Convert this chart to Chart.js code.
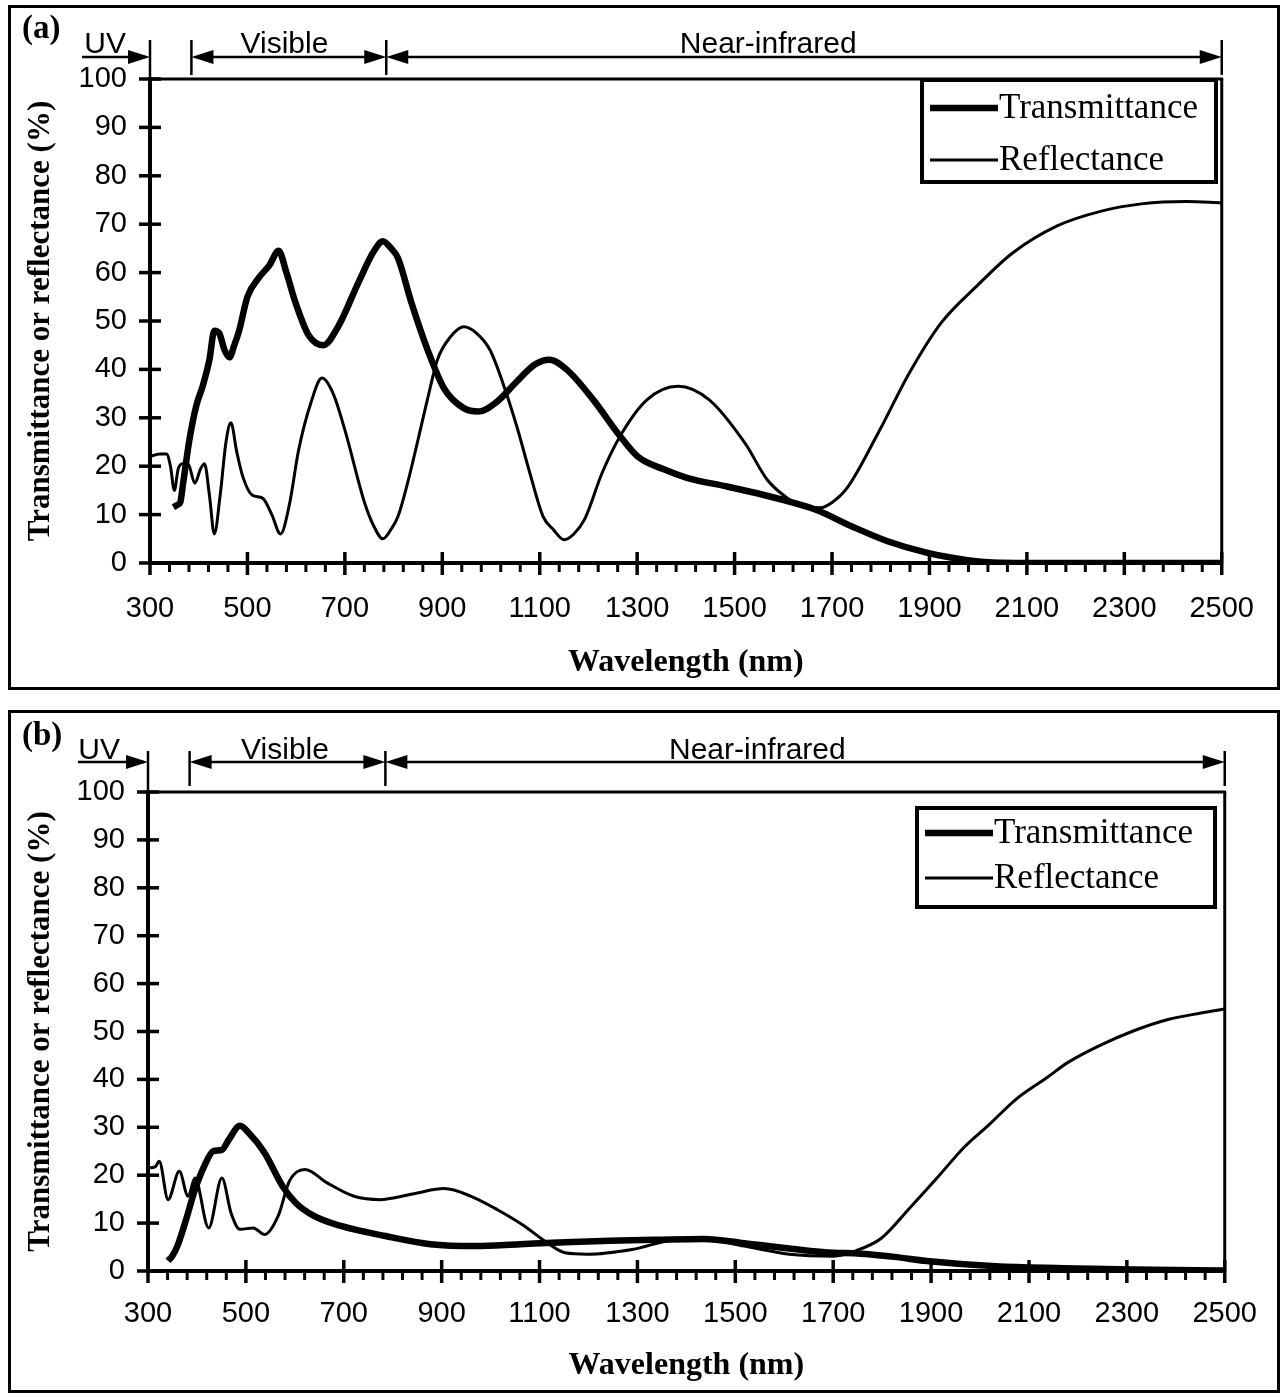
<!DOCTYPE html>
<html>
<head>
<meta charset="utf-8">
<title>Transmittance and reflectance spectra</title>
<script src="https://cdn.jsdelivr.net/npm/chart.js@4.4.1/dist/chart.umd.min.js"></script>
<style>
  body { margin: 0; background: #fff; }
  #page { position: relative; width: 1283px; height: 1397px; overflow: hidden; }
  .frame { position: absolute; left: 8px; width: 1272px; border: 3px solid #000; box-sizing: border-box; }
  canvas { position: absolute; left: 0; }
</style>
</head>
<body>
<div id="page">
  <div class="frame" style="top:5px;height:685px"></div>
  <div class="frame" style="top:710px;height:683px"></div>
  <canvas id="chartA" width="1283" height="700" style="top:0"></canvas>
  <canvas id="chartB" width="1283" height="697" style="top:700px"></canvas>
</div>
<script>
var xTicks = [300, 500, 700, 900, 1100, 1300, 1500, 1700, 1900, 2100, 2300, 2500];
var yTicks = [0, 10, 20, 30, 40, 50, 60, 70, 80, 90, 100];
var seriesNames = ["Transmittance", "Reflectance"];
var regionNames = ["UV", "Visible", "Near-infrared"];
var regionEdges = [300, 385, 785, 2500];

// (a)
var wlTransA = [348, 356, 362, 368, 381, 395, 408, 422, 432, 442, 453, 463, 473, 483, 500, 524, 545, 564, 580, 598,
  626, 656, 687, 728, 760, 778, 795, 809, 836, 870, 904, 944, 975, 1012, 1053, 1090, 1120, 1155, 1210, 1265,
  1301, 1356, 1402, 1484, 1558, 1612, 1667, 1740, 1814, 1896, 1978, 2030, 2100, 2200, 2300, 2400, 2500];
var transA = [11.5, 12, 12.5, 16.5, 25.5, 32.5, 36.5, 42, 48, 47.5, 44, 42.5, 45, 48, 55, 59, 61.5, 64.5, 60, 54,
  47, 45, 49, 58, 64.5, 66.5, 65, 63, 54, 44, 36, 32, 31.3, 33.3, 37.5, 41, 42, 40, 33.7, 26.2,
  22, 19.3, 17.6, 15.8, 14.1, 12.7, 11, 7.6, 4.5, 2.1, 0.6, 0.1, 0, 0, 0, 0, 0];
var wlReflA = [300, 320, 334, 342, 350, 358, 368, 378, 392, 404, 412, 422, 432, 444, 456, 466, 478, 490, 510, 531,
  550, 568, 586, 605, 630, 653, 676, 700, 741, 760, 778, 795, 809, 830, 850, 870, 890, 915, 944, 970,
  998, 1025, 1053, 1080, 1107, 1127, 1150, 1170, 1192, 1228, 1265, 1320, 1384, 1448, 1521, 1567, 1603, 1631, 1676, 1700,
  1731, 1795, 1859, 1924, 1997, 2070, 2161, 2253, 2335, 2427, 2500];
var reflA = [22, 22.5, 22.5, 20, 15, 19.5, 20.5, 20.5, 16.5, 19.5, 20.5, 14, 6, 14, 25, 29, 23, 18, 14, 13.4,
  10, 6, 12, 23.3, 33, 38.2, 35, 27.5, 12.3, 7.5, 5, 7, 9.6, 17, 25.4, 34, 42, 46.5, 48.8, 47.5,
  44, 37, 28.2, 18.5, 9.6, 7, 4.8, 6, 9, 18.6, 26.2, 33.7, 36.5, 33.7, 24.8, 17.2, 13.8, 12.1, 11.4, 12.5,
  15.5, 26.9, 39.3, 49.6, 57.2, 64, 69.6, 72.7, 74.2, 74.7, 74.4];

// (b)
var wlTransB = [341, 350, 360, 378, 396, 415, 433, 451, 465, 488, 506, 538, 575, 602, 639, 694, 785, 877, 969, 1060,
  1152, 1243, 1335, 1436, 1518, 1610, 1701, 1743, 1820, 1891, 2032, 2172, 2313, 2500];
var transB = [2.1, 3.2, 5.2, 10.8, 17, 21.9, 25, 25.3, 27.4, 30.3, 28.8, 24.7, 17.7, 14.2, 11.5, 9.4, 7.3, 5.6, 5.2, 5.6,
  6, 6.3, 6.5, 6.7, 5.8, 4.7, 3.8, 3.7, 3, 2.1, 1, 0.6, 0.3, 0.1];
var wlReflB = [300, 315, 323, 341, 364, 382, 396, 424, 451, 470, 488, 515, 538, 566, 589, 621, 666, 721, 776, 804,
  850, 905, 960, 1014, 1069, 1106, 1152, 1198, 1289, 1381, 1436, 1518, 1610, 1701, 1743, 1799, 1856, 1912, 1968, 2017,
  2074, 2137, 2179, 2243, 2313, 2384, 2454, 2500];
var reflB = [21.5, 21.8, 22.9, 14.9, 20.8, 15.6, 19.4, 9, 19.4, 12, 8.7, 9, 7.6, 11.5, 18.8, 21.2, 18.4, 15.6, 14.9, 15.3,
  16.3, 17.2, 15.6, 12.8, 9.4, 6.6, 3.8, 3.5, 4.5, 6.6, 6.7, 5.2, 3.5, 3.1, 4.1, 6.9, 13.1, 19.4, 25.9, 30.4,
  35.9, 40.4, 43.5, 47, 50.1, 52.5, 53.9, 54.7];

var SANS = "'Liberation Sans', Arial, sans-serif";
var SERIF = "'Liberation Serif', 'Times New Roman', serif";

function pairs(xs, ys) {
  return xs.map(function(x, i) { return {x: x, y: ys[i]}; });
}

function seg(ctx, x1, y1, x2, y2) {
  ctx.beginPath();
  ctx.moveTo(x1, y1);
  ctx.lineTo(x2, y2);
  ctx.stroke();
}

function head(ctx, tip, y, dir) {
  ctx.beginPath();
  ctx.moveTo(tip, y);
  ctx.lineTo(tip - dir * 22, y - 7);
  ctx.lineTo(tip - dir * 22, y + 7);
  ctx.closePath();
  ctx.fill();
}

// ticks, plot frame, UV/visible/NIR markers, legend box and panel tag
var decor = {
  id: 'decor',
  afterDraw: function(chart, args, o) {
    var ctx = chart.ctx, a = chart.chartArea;
    var xs = chart.scales.x, ys = chart.scales.y;
    ctx.save();
    ctx.strokeStyle = '#000';
    ctx.fillStyle = '#000';
    ctx.lineCap = 'butt';

    ctx.lineWidth = 3;
    seg(ctx, a.left, a.top, a.right + 1.5, a.top);
    seg(ctx, a.right, a.top, a.right, a.bottom);

    ctx.lineWidth = 3.5;
    yTicks.forEach(function(v) {
      var y = ys.getPixelForValue(v);
      seg(ctx, a.left - 11, y, a.left + 11, y);
    });
    xTicks.forEach(function(v) {
      var x = xs.getPixelForValue(v);
      seg(ctx, x, a.bottom - 11, x, a.bottom + 12);
    });
    ctx.lineWidth = 3;
    for (var v = xs.min + 40; v < xs.max; v += 40) {
      if ((v - xs.min) % 200 === 0) continue;
      var px = xs.getPixelForValue(v);
      seg(ctx, px, a.bottom, px, a.bottom + 9);
    }

    // spectral regions above the plot
    var e = regionEdges.map(function(w) { return xs.getPixelForValue(w); });
    var ay = a.top - o.arrowRise;
    ctx.lineWidth = 2.5;
    seg(ctx, e[0], a.top - o.barTop, e[0], a.top);
    for (var i = 1; i < e.length; i++) {
      seg(ctx, e[i], a.top - o.barTop, e[i], a.top - o.barBottom);
    }
    seg(ctx, o.uvStart, ay, e[0] - 4, ay);
    head(ctx, e[0], ay, 1);
    seg(ctx, e[1] + 10, ay, e[2] - 10, ay);
    head(ctx, e[1], ay, -1);
    head(ctx, e[2], ay, 1);
    seg(ctx, e[2] + 10, ay, e[3] - 10, ay);
    head(ctx, e[2], ay, -1);
    head(ctx, e[3], ay, 1);

    ctx.font = '30px ' + SANS;
    ctx.textAlign = 'center';
    ctx.textBaseline = 'alphabetic';
    regionNames.forEach(function(name, k) {
      ctx.fillText(name, xs.getPixelForValue(o.textAt[k]), a.top - o.textRise);
    });

    // legend
    var L = o.legend;
    ctx.fillStyle = '#fff';
    ctx.fillRect(L.x, L.y, L.w, L.h);
    ctx.fillStyle = '#000';
    ctx.lineWidth = 4;
    ctx.strokeRect(L.x, L.y, L.w, L.h);
    ctx.font = '35px ' + SERIF;
    ctx.textAlign = 'left';
    ctx.textBaseline = 'middle';
    chart.data.datasets.forEach(function(ds, k) {
      var yy = L.y + L.rows[k];
      ctx.lineWidth = ds.borderWidth;
      seg(ctx, L.x + 8, yy, L.x + 76, yy);
      ctx.fillText(ds.label, L.x + 77, yy + 1);
    });

    ctx.font = 'bold 33px ' + SERIF;
    ctx.textBaseline = 'alphabetic';
    ctx.fillText(o.tag, 22, o.tagY);
    ctx.restore();
  }
};

function makeChart(id, wlT, tVals, wlR, rVals, o) {
  return new Chart(document.getElementById(id), {
    type: 'line',
    data: {
      datasets: [
        {
          label: seriesNames[0],
          data: pairs(wlT, tVals),
          borderColor: '#000',
          borderWidth: 6.5,
          pointRadius: 0,
          cubicInterpolationMode: 'monotone',
          fill: false
        },
        {
          label: seriesNames[1],
          data: pairs(wlR, rVals),
          borderColor: '#000',
          borderWidth: 3,
          pointRadius: 0,
          cubicInterpolationMode: 'monotone',
          fill: false
        }
      ]
    },
    options: {
      responsive: false,
      animation: false,
      events: [],
      layout: { padding: o.padding },
      plugins: {
        legend: { display: false },
        tooltip: { enabled: false },
        decor: o.decor
      },
      scales: {
        x: {
          type: 'linear',
          min: 300,
          max: 2500,
          afterBuildTicks: function(s) { s.ticks = xTicks.map(function(v) { return {value: v}; }); },
          afterFit: function(s) { s.height = o.xHeight; },
          grid: { display: false, drawTicks: false },
          border: { display: true, width: 4, color: '#000' },
          ticks: {
            color: '#000',
            padding: o.xLabelPad,
            maxRotation: 0,
            autoSkip: false,
            font: { family: SANS, size: 29 },
            callback: function(v) { return String(v); }
          },
          title: {
            display: true,
            text: 'Wavelength (nm)',
            color: '#000',
            font: { family: SERIF, size: 32, weight: 'bold' },
            padding: { top: 0, bottom: o.xTitlePad }
          }
        },
        y: {
          min: 0,
          max: 100,
          afterBuildTicks: function(s) { s.ticks = yTicks.map(function(v) { return {value: v}; }); },
          afterFit: function(s) { s.width = o.yWidth; },
          grid: { display: false, drawTicks: false },
          border: { display: true, width: 4, color: '#000' },
          ticks: {
            color: '#000',
            padding: 23,
            font: { family: SANS, size: 29 },
            callback: function(v) { return String(v); }
          },
          title: {
            display: true,
            text: 'Transmittance or reflectance (%)',
            color: '#000',
            font: { family: SERIF, size: 31, weight: 'bold' },
            padding: { top: 10, bottom: 0 }
          }
        }
      }
    },
    plugins: [decor]
  });
}

var chartA = makeChart('chartA', wlTransA, transA, wlReflA, reflA, {
  padding: { left: 12, right: 56, top: 79, bottom: 10 },
  xHeight: 127,
  yWidth: 138,
  xLabelPad: 29,
  xTitlePad: 8,
  decor: {
    tag: '(a)', tagY: 38,
    arrowRise: 22, barTop: 39, barBottom: 4, textRise: 26,
    uvStart: 82, textAt: [208, 576, 1569],
    legend: { x: 922, y: 80, w: 294, h: 102, rows: [28, 80] }
  }
});

var chartB = makeChart('chartB', wlTransB, transB, wlReflB, reflB, {
  padding: { left: 12, right: 58, top: 92, bottom: 4 },
  xHeight: 122,
  yWidth: 136,
  xLabelPad: 26,
  xTitlePad: 8,
  decor: {
    tag: '(b)', tagY: 45,
    arrowRise: 30, barTop: 41, barBottom: 6, textRise: 33,
    uvStart: 78, textAt: [200, 580, 1545],
    legend: { x: 917, y: 108, w: 298, h: 99, rows: [25, 70] }
  }
});
</script>
</body>
</html>
